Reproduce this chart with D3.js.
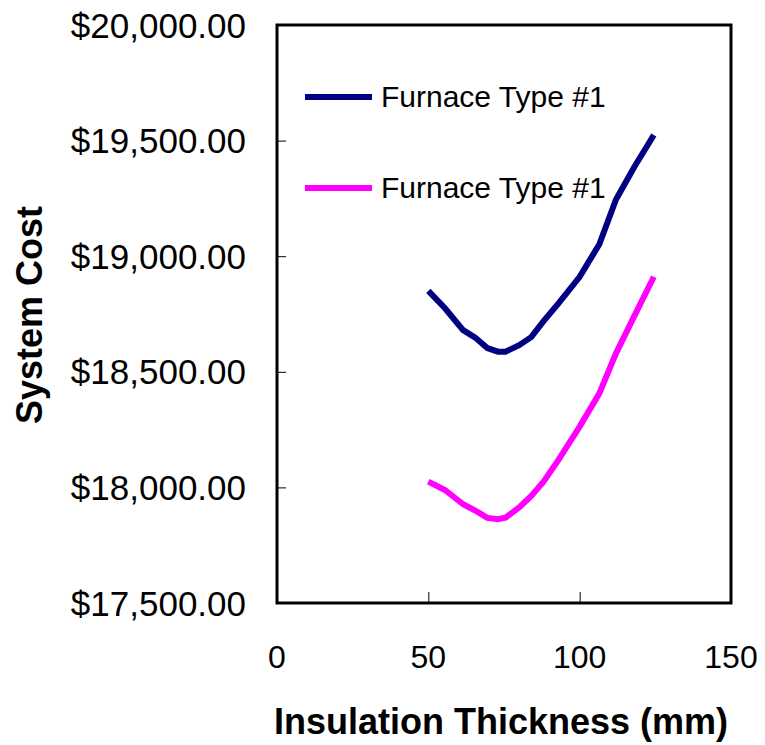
<!DOCTYPE html>
<html>
<head>
<meta charset="utf-8">
<script src="https://cdn.jsdelivr.net/npm/d3@7"></script>
<style>
  html, body { margin: 0; padding: 0; background: #fff; }
  svg { display: block; font-family: "Liberation Sans", Arial, sans-serif; }
</style>
</head>
<body>
<svg id="chart" width="765" height="745"></svg>
<script>
// Insulation thickness (mm) at which system cost was evaluated
const thickness = [50, 55.5, 61.5, 65.5, 69.5, 73, 75.5, 80, 84, 88, 93, 100, 106.5, 112, 118, 124.5];
// System cost for each furnace configuration
const costSeriesA = [18850, 18775, 18680, 18648, 18603, 18587, 18587, 18615, 18650, 18718, 18796, 18911, 19052, 19245, 19385, 19524];
const costSeriesB = [18025, 17989, 17927, 17900, 17868, 17862, 17869, 17913, 17963, 18024, 18119, 18263, 18407, 18580, 18740, 18911];
const seriesNames = ["Furnace Type #1", "Furnace Type #1"];
const seriesColors = ["#000080", "#FF00FF"];
const xTicks = [0, 50, 100, 150];
const yTicks = [17500, 18000, 18500, 19000, 19500, 20000];

const svg = d3.select("#chart");
const plot = { left: 277, right: 731, top: 25, bottom: 603 };

const x = d3.scaleLinear().domain([0, 150]).range([plot.left, plot.right]);
const y = d3.scaleLinear().domain([17500, 20000]).range([plot.bottom, plot.top]);

const money = v => "$" + d3.format(",.2f")(v);

// Y axis: ticks point inward, labels on the left
const yAxis = svg.append("g")
  .attr("transform", `translate(${plot.left},0)`)
  .call(d3.axisRight(y).tickValues(yTicks).tickSize(9).tickFormat(""));
yAxis.select(".domain").remove();
yAxis.selectAll("line").attr("stroke", "#000").attr("stroke-width", 1);

svg.append("g").selectAll("text")
  .data(yTicks)
  .join("text")
  .attr("x", 246)
  .attr("y", d => y(d))
  .attr("dy", "0.36em")
  .attr("text-anchor", "end")
  .attr("font-size", 35)
  .attr("fill", "#000")
  .text(money);

// X axis: ticks point upward into the plot
const xAxis = svg.append("g")
  .attr("transform", `translate(0,${plot.bottom})`)
  .call(d3.axisTop(x).tickValues(xTicks).tickSize(11).tickFormat(""));
xAxis.select(".domain").remove();
xAxis.selectAll("line").attr("stroke", "#000").attr("stroke-width", 1);

svg.append("g").selectAll("text")
  .data(xTicks)
  .join("text")
  .attr("x", d => x(d))
  .attr("y", 668)
  .attr("text-anchor", "middle")
  .attr("font-size", 32)
  .attr("fill", "#000")
  .text(d => d);

// Plot frame
svg.append("rect")
  .attr("x", plot.left)
  .attr("y", plot.top)
  .attr("width", plot.right - plot.left)
  .attr("height", plot.bottom - plot.top)
  .attr("fill", "none")
  .attr("stroke", "#000")
  .attr("stroke-width", 3);

// Cost curves
const line = d3.line()
  .x(d => x(d[0]))
  .y(d => y(d[1]));

[costSeriesA, costSeriesB].forEach((vals, i) => {
  svg.append("path")
    .datum(thickness.map((t, j) => [t, vals[j]]))
    .attr("fill", "none")
    .attr("stroke", seriesColors[i])
    .attr("stroke-width", 6)
    .attr("stroke-linejoin", "miter")
    .attr("d", line);
});

// Legend
const legendRows = [97, 188];
seriesNames.forEach((name, i) => {
  const g = svg.append("g").attr("transform", `translate(0,${legendRows[i]})`);
  g.append("line")
    .attr("x1", 305).attr("x2", 372)
    .attr("y1", 0).attr("y2", 0)
    .attr("stroke", seriesColors[i])
    .attr("stroke-width", 6);
  g.append("text")
    .attr("x", 381)
    .attr("y", 10)
    .attr("font-size", 30)
    .attr("fill", "#000")
    .text(name);
});

// Axis titles
svg.append("text")
  .attr("transform", "translate(42,315) rotate(-90)")
  .attr("text-anchor", "middle")
  .attr("font-size", 36)
  .attr("font-weight", "bold")
  .attr("fill", "#000")
  .text("System Cost");

svg.append("text")
  .attr("x", 501)
  .attr("y", 734)
  .attr("text-anchor", "middle")
  .attr("font-size", 36)
  .attr("font-weight", "bold")
  .attr("fill", "#000")
  .text("Insulation Thickness (mm)");
</script>
</body>
</html>
